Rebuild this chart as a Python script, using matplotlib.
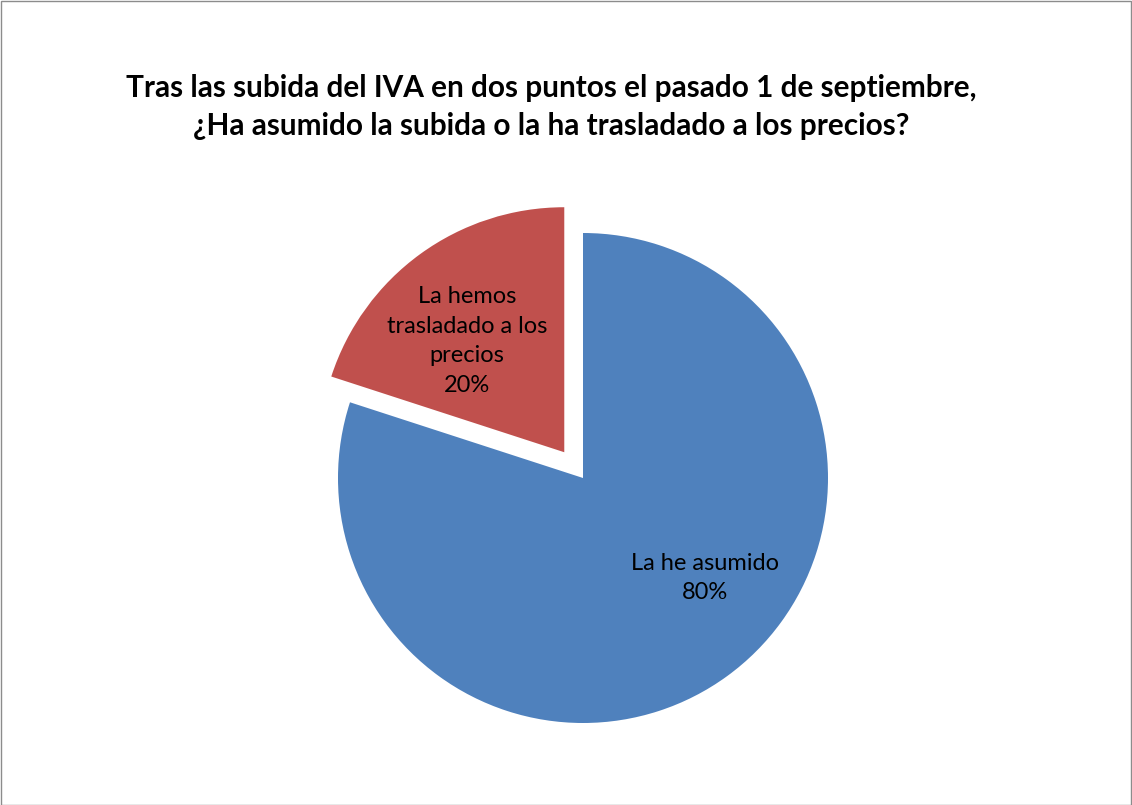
import matplotlib.pyplot as plt
from matplotlib.patches import Rectangle

labels = ["La he asumido", "La hemos\ntrasladado a los\nprecios"]
values = [80, 20]
colors = ["#4F81BD", "#C0504D"]
explode = [0, 0.13]

title = ("Tras las subida del IVA en dos puntos el pasado 1 de septiembre,\n"
         "¿Ha asumido la subida o la ha trasladado a los precios?")

plt.rcParams["font.family"] = ["Lato", "DejaVu Sans"]

W, H = 1132, 805
fig = plt.figure(figsize=(W / 100, H / 100), dpi=100)

# pie centre and radius in pixels
cx, cy, r = 583, 478, 245
lim = 1.2
size = 2 * lim * r
ax = fig.add_axes([(cx - size / 2) / W, (H - cy - size / 2) / H, size / W, size / H])

wedges, _ = ax.pie(values, colors=colors, explode=explode, startangle=90,
                   counterclock=False, radius=1,
                   wedgeprops=dict(linewidth=0))
ax.set_xlim(-lim, lim)
ax.set_ylim(-lim, lim)
ax.set_aspect("equal")
ax.axis("off")

total = sum(values)
label_pos = [(0.498, -0.408), (-0.473, 0.559)]
for lab, val, (x, y) in zip(labels, values, label_pos):
    ax.text(x, y, f"{lab}\n{round(100 * val / total)}%", ha="center", va="center",
            fontsize=17, linespacing=1.5, color="black")

fig.text(551 / W, 1 - 107 / H, title, ha="center", va="center",
         fontsize=21.4, fontweight="bold", linespacing=1.45)

fig.patches.append(Rectangle((0.5 / W, 0.5 / H), (W - 2) / W, (H - 2) / H,
                             transform=fig.transFigure, fill=False,
                             edgecolor="#8c8c8c", linewidth=1))

fig.savefig("out.png", dpi=100)
